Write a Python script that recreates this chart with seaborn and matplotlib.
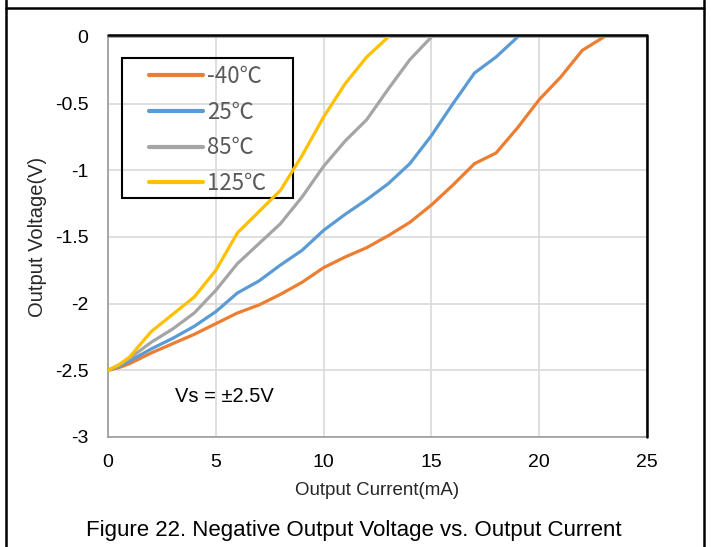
import pandas as pd
import seaborn as sns
import matplotlib.pyplot as plt
from matplotlib.lines import Line2D
from matplotlib.patches import Rectangle

# data
temps = ['-40℃', '25℃', '85℃', '125℃']

i_m40 = [0, 0.5, 1, 2, 3, 4, 5, 6, 7, 8, 9, 10, 11, 12, 13, 14, 15, 16, 17, 18, 19, 20, 21, 22, 23]
v_m40 = [-2.5, -2.48, -2.45, -2.37, -2.3, -2.23, -2.15, -2.07, -2.01, -1.93, -1.84, -1.73, -1.65,
         -1.58, -1.49, -1.39, -1.26, -1.11, -0.95, -0.87, -0.68, -0.47, -0.3, -0.1, 0]

i_25 = [0, 0.5, 1, 2, 3, 4, 5, 6, 7, 8, 9, 10, 11, 12, 13, 14, 15, 16, 17, 18, 19]
v_25 = [-2.5, -2.47, -2.43, -2.34, -2.26, -2.17, -2.06, -1.92, -1.83, -1.71, -1.6, -1.45, -1.33,
        -1.22, -1.1, -0.95, -0.74, -0.5, -0.27, -0.15, 0]

i_85 = [0, 0.5, 1, 2, 3, 4, 5, 6, 7, 8, 9, 10, 11, 12, 13, 14, 15]
v_85 = [-2.5, -2.46, -2.41, -2.29, -2.19, -2.07, -1.9, -1.7, -1.55, -1.4, -1.2, -0.97, -0.78,
        -0.62, -0.39, -0.17, 0]

i_125 = [0, 0.5, 1, 2, 3, 4, 5, 6, 7, 8, 9, 10, 11, 12, 13]
v_125 = [-2.5, -2.46, -2.4, -2.21, -2.08, -1.95, -1.75, -1.47, -1.31, -1.15, -0.89, -0.6, -0.35,
         -0.15, 0]

xticks = [0, 5, 10, 15, 20, 25]
yticks = [0, -0.5, -1, -1.5, -2, -2.5, -3]
ytick_labels = ['0', '-0.5', '-1', '-1.5', '-2', '-2.5', '-3']

colors = ['#ED7D31', '#5B9BD5', '#A5A5A5', '#FFC000']

# long table for seaborn
frames = []
for t, xs, ys in zip(temps, [i_m40, i_25, i_85, i_125], [v_m40, v_25, v_85, v_125]):
    frames.append(pd.DataFrame({'current': xs, 'voltage': ys, 'temp': t}))
df = pd.concat(frames, ignore_index=True)

sns.set_theme(style='white')
plt.rcParams['font.family'] = ['Liberation Sans', 'Noto Sans CJK SC', 'DejaVu Sans']

fig = plt.figure(figsize=(7.11, 5.47), dpi=100)
ax = fig.add_axes([0.1519, 0.2011, 0.7581, 0.7313])

sns.lineplot(data=df, x='current', y='voltage', hue='temp', hue_order=temps,
             palette=colors, sort=False, linewidth=2.3, ax=ax, zorder=9)
for ln in ax.lines:
    ln.set_solid_joinstyle('round')
    ln.set_solid_capstyle('round')

ax.set_xlim(0, 25)
ax.set_ylim(-3, 0)
ax.set_xticks(xticks)
ax.set_yticks(yticks)
ax.set_yticklabels(ytick_labels)
ax.tick_params(axis='both', length=0, labelsize=14, colors='black')
ax.tick_params(axis='x', pad=12)
ax.tick_params(axis='y', pad=14)
ax.grid(True, color='#D9D9D9', linewidth=1.2)
ax.set_axisbelow(True)

for s in ax.spines.values():
    s.set_color('#9A9A9A')
    s.set_linewidth(1.2)
    s.set_zorder(5)
# dark edge on top and right of the plot area
ax.plot([0, 1, 1], [1.004, 1.004, 0], transform=ax.transAxes, color='black',
        linewidth=1.8, clip_on=False, zorder=10)

ax.set_xlabel('Output Current(mA)', fontsize=13.5, labelpad=8)
ax.set_ylabel('Output Voltage(V)', fontsize=14.5, labelpad=6)

# legend box drawn separately (no fill), entries placed inside it
ax.add_patch(Rectangle((0.026, 0.5975), 0.317, 0.35, transform=ax.transAxes, fill=False,
                       edgecolor='black', linewidth=1.5, zorder=7))
leg = ax.legend(loc='upper left', bbox_to_anchor=(0.076, 0.93), frameon=False,
                prop={'family': ['Noto Sans CJK SC'], 'size': 16},
                handlelength=2.45, handletextpad=0.15, labelspacing=0.57,
                borderpad=0, borderaxespad=0)
leg.set_zorder(8)
for txt in leg.get_texts():
    txt.set_color('#595959')
for h in leg.get_lines():
    h.set_linewidth(3)

ax.text(3.1, -2.7, 'Vs = ±2.5V', fontsize=14.5, va='center', ha='left', color='black')

fig.text(0.497, 0.031, 'Figure 22. Negative Output Voltage vs. Output Current',
         fontsize=16, ha='center', va='center', color='black')

# outer frame around the figure cell
fig.add_artist(Line2D([0.009, 0.009], [0, 1], transform=fig.transFigure, color='black', linewidth=1.8))
fig.add_artist(Line2D([0.990, 0.990], [0, 1], transform=fig.transFigure, color='black', linewidth=1.8))
fig.add_artist(Line2D([0.009, 0.990], [0.985, 0.985], transform=fig.transFigure, color='black', linewidth=1.8))

fig.savefig('out.png', dpi=100)
